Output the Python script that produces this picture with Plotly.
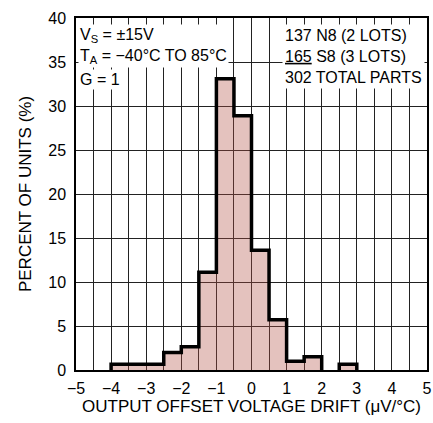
import plotly.graph_objects as go

# bin left edges (µV/°C), bin width 0.5
bin_left = [-4.0, -3.5, -3.0, -2.5, -2.0, -1.5, -1.0, -0.5, 0.0, 0.5, 1.0, 1.5, 2.0, 2.5]
percent = [0.66, 0.66, 0.66, 1.99, 2.65, 11.1, 33.1, 28.9, 13.6, 5.7, 1.0, 1.5, 0.0, 0.66]
bin_width = 0.5

x_ticks = [-5, -4, -3, -2, -1, 0, 1, 2, 3, 4, 5]
x_tick_text = ["\u22125", "\u22124", "\u22123", "\u22122", "\u22121", "0", "1", "2", "3", "4", "5"]
y_ticks = [0, 5, 10, 15, 20, 25, 30, 35, 40]

FONT = "Liberation Sans, Arial, sans-serif"

centers = [b + bin_width / 2 for b in bin_left]

# outline built from the data (split where bins are empty)
runs = []
cur = []
for b, v in zip(bin_left, percent):
    if v > 0:
        cur.append((b, v))
    else:
        if cur:
            runs.append(cur)
        cur = []
if cur:
    runs.append(cur)

ox, oy = [], []
for run in runs:
    xs = [run[0][0]] + [b for b, v in run] + [run[-1][0] + bin_width]
    ys = [0] + [v for b, v in run] + [0]
    ox.extend(xs + [None])
    oy.extend(ys + [None])

fig = go.Figure()
fig.add_trace(go.Bar(
    x=centers, y=percent, width=bin_width,
    marker=dict(color="rgba(178,81,69,0.35)", line=dict(width=0)),
    hoverinfo="skip",
))
fig.add_trace(go.Scatter(
    x=ox, y=oy, mode="lines", line=dict(color="black", width=3.5, shape="hv"),
    connectgaps=False, hoverinfo="skip",
))

fig.update_layout(
    template="none",
    width=433, height=423,
    margin=dict(l=76, r=6, t=18, b=53, autoexpand=False),
    paper_bgcolor="white", plot_bgcolor="white",
    showlegend=False,
    font=dict(family=FONT, size=16, color="black"),
    bargap=0,
)
fig.update_xaxes(
    automargin=False,
    range=[-5, 5], tickvals=x_ticks, ticktext=x_tick_text,
    showgrid=True, gridcolor="#222", gridwidth=1, zeroline=False,
    showline=True, linecolor="black", linewidth=1.5, mirror=True,
    ticks="", ticklabelstandoff=3,
    minor=dict(dtick=0.5, tick0=-5, showgrid=True, gridcolor="#222", gridwidth=1, ticks=""),
    title=dict(text="OUTPUT OFFSET VOLTAGE DRIFT (\u03bcV/\u00b0C)", standoff=3,
               font=dict(size=17)),
)
fig.update_yaxes(
    automargin=False,
    range=[0, 40], tickvals=y_ticks,
    showgrid=True, gridcolor="#222", gridwidth=1, zeroline=False,
    showline=True, linecolor="black", linewidth=1.5, mirror=True,
    ticks="", ticklabelstandoff=5,
    title=dict(text="PERCENT OF UNITS (%)", standoff=12, font=dict(size=17)),
)

ann_font = dict(family=FONT, size=16, color="black")
fig.add_annotation(
    xref="paper", yref="paper", x=0.007, y=0.982, xanchor="left", yanchor="top",
    text="V<sub>S</sub> = \u00b115V<br>T<sub>A</sub> = \u221240\u00b0C TO 85\u00b0C",
    align="left", showarrow=False, bgcolor="white", font=ann_font, borderpad=1,
)
fig.add_annotation(
    xref="paper", yref="paper", x=0.007, y=0.826, xanchor="left", yanchor="middle",
    text="G = 1", align="left", showarrow=False, bgcolor="white", font=ann_font, borderpad=1,
)
fig.add_annotation(
    xref="paper", yref="paper", x=0.993, y=0.982, xanchor="right", yanchor="top",
    text="137 N8 (2 LOTS)<br><u>165</u> S8 (3 LOTS)<br>302 TOTAL PARTS",
    align="left", showarrow=False, bgcolor="white", font=ann_font, borderpad=2,
)

fig.write_html("out.html", config={"displayModeBar": False},
               post_script="document.body.style.margin='0px';")
